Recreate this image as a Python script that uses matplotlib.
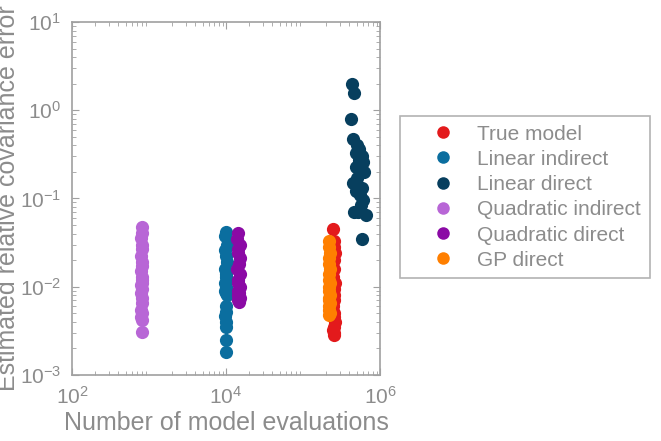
import numpy as np
import matplotlib
matplotlib.use("Agg")
import matplotlib.pyplot as plt

plt.rcParams['font.family'] = ['Liberation Sans', 'DejaVu Sans']
plt.rcParams['mathtext.default'] = 'regular'

grey = '#8c8c8c'

# series: (label, colour, x values, y values)
true_x = [2.45e5, 2.55e5, 2.5e5, 2.6e5, 2.5e5, 2.55e5, 2.45e5, 2.6e5, 2.5e5, 2.55e5,
          2.5e5, 2.45e5, 2.55e5, 2.5e5, 2.6e5, 2.5e5, 2.45e5, 2.55e5, 2.5e5]
true_y = [0.045, 0.033, 0.028, 0.024, 0.020, 0.016, 0.013, 0.011, 0.0095, 0.008,
          0.007, 0.006, 0.005, 0.0045, 0.004, 0.0035, 0.0032, 0.003, 0.0028]

lin_ind_x = [1.0e4, 0.97e4, 1.02e4, 0.98e4, 1.0e4, 1.03e4, 0.97e4, 1.0e4, 0.99e4, 1.02e4,
             0.98e4, 1.0e4, 1.01e4, 0.97e4, 1.0e4, 1.02e4, 0.99e4, 1.0e4, 0.98e4, 1.0e4,
             1.0e4, 0.99e4, 1.0e4]
lin_ind_y = [0.042, 0.038, 0.030, 0.026, 0.022, 0.019, 0.016, 0.014, 0.013, 0.012,
             0.011, 0.010, 0.0095, 0.009, 0.0085, 0.008, 0.006, 0.0052, 0.0047, 0.004,
             0.0035, 0.0025, 0.0018]

lin_dir_x = [4.3e5, 4.6e5, 4.2e5, 4.4e5, 5.0e5, 5.4e5, 4.8e5, 5.8e5, 5.3e5, 6.0e5,
             4.9e5, 5.6e5, 6.2e5, 5.0e5, 4.5e5, 5.8e5, 4.8e5, 5.5e5, 6.0e5, 5.7e5,
             4.6e5, 6.5e5, 5.2e5, 5.9e5]
lin_dir_y = [2.0, 1.55, 0.80, 0.47, 0.40, 0.36, 0.33, 0.30, 0.27, 0.26,
             0.23, 0.21, 0.20, 0.17, 0.15, 0.13, 0.12, 0.11, 0.095, 0.085,
             0.07, 0.065, 0.07, 0.035]

quad_ind_x = [800, 810, 795, 820, 805, 790, 815, 800, 785, 810, 800, 820,
              795, 805, 790, 810, 800, 795, 805, 790, 800, 815]
quad_ind_y = [0.047, 0.041, 0.036, 0.030, 0.027, 0.022, 0.019, 0.017, 0.015, 0.013,
              0.012, 0.011, 0.0105, 0.0095, 0.0085, 0.0075, 0.0065, 0.0055, 0.005,
              0.0045, 0.0042, 0.0031]

quad_dir_x = [1.45e4, 1.4e4, 1.5e4, 1.45e4, 1.42e4, 1.5e4, 1.47e4, 1.4e4, 1.52e4,
              1.45e4, 1.43e4, 1.5e4, 1.45e4, 1.48e4, 1.42e4, 1.5e4, 1.45e4, 1.47e4]
quad_dir_y = [0.041, 0.035, 0.030, 0.027, 0.024, 0.021, 0.018, 0.016, 0.014, 0.012,
              0.011, 0.010, 0.009, 0.0085, 0.008, 0.0075, 0.007, 0.0067]

gp_x = [2.2e5, 2.15e5, 2.25e5, 2.2e5, 2.18e5, 2.22e5, 2.2e5, 2.15e5, 2.25e5, 2.2e5,
        2.18e5, 2.22e5, 2.2e5, 2.15e5, 2.25e5, 2.2e5, 2.18e5, 2.22e5, 2.2e5]
gp_y = [0.033, 0.028, 0.024, 0.021, 0.018, 0.016, 0.014, 0.012, 0.011, 0.010,
        0.009, 0.008, 0.0075, 0.007, 0.0065, 0.006, 0.0055, 0.005, 0.0048]

series = [
    ("True model", "#e31a1c", true_x, true_y),
    ("Linear indirect", "#0b6e9f", lin_ind_x, lin_ind_y),
    ("Linear direct", "#073f5e", lin_dir_x, lin_dir_y),
    ("Quadratic indirect", "#b866d6", quad_ind_x, quad_ind_y),
    ("Quadratic direct", "#8b0aa5", quad_dir_x, quad_dir_y),
    ("GP direct", "#ff7f00", gp_x, gp_y),
]

fig = plt.figure(figsize=(6.61, 4.41), dpi=100)
ax = fig.add_axes([0.109, 0.150, 0.466, 0.800])

for label, color, xs, ys in series:
    ax.plot(xs, ys, 'o', color=color, markersize=9.5, markeredgewidth=0, label=label)

ax.set_xscale('log')
ax.set_yscale('log')
ax.set_xlim(1e2, 1e6)
ax.set_ylim(1e-3, 1e1)
ax.set_xticks([1e2, 1e4, 1e6])
ax.set_xticklabels(['$10^{2}$', '$10^{4}$', '$10^{6}$'])
ax.set_yticks([1e-3, 1e-2, 1e-1, 1e0, 1e1])
ax.set_yticklabels(['$10^{-3}$', '$10^{-2}$', '$10^{-1}$', '$10^{0}$', '$10^{1}$'])

for s in ax.spines.values():
    s.set_color('#a0a0a0')
    s.set_linewidth(1.2)
ax.tick_params(which='both', direction='in', top=True, right=True, colors='#a0a0a0',
               labelcolor=grey, labelsize=15, pad=8)
ax.tick_params(which='major', length=5)
ax.tick_params(which='minor', length=3)

ax.set_xlabel('Number of model evaluations', fontsize=18, color=grey, labelpad=2)
ax.set_ylabel('Estimated relative covariance error', fontsize=18, color=grey, labelpad=0)

leg = fig.legend(loc='center left', bbox_to_anchor=(0.590, 0.553), fontsize=15,
                 numpoints=1, handletextpad=0.0, borderpad=0.4, labelspacing=0.3,
                 fancybox=False, markerscale=0.95, handlelength=3.3)
leg.get_frame().set_edgecolor('#a0a0a0')
leg.get_frame().set_linewidth(1.2)
for t in leg.get_texts():
    t.set_color(grey)

fig.savefig('out.png', dpi=100)
